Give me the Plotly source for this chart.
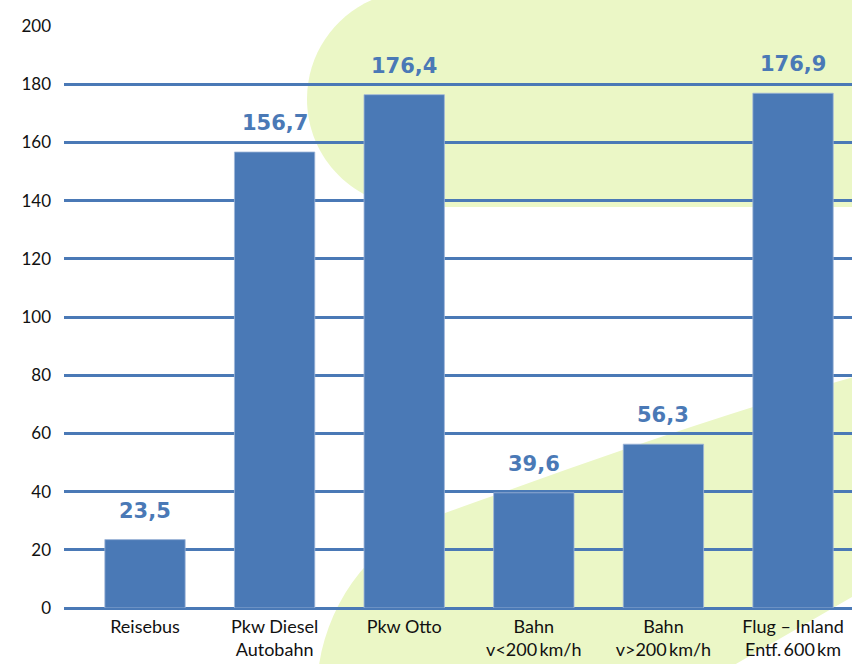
import plotly.graph_objects as go

categories = ["Reisebus", "Pkw Diesel<br>Autobahn", "Pkw Otto",
              "Bahn<br>v&lt;200\u2009km/h", "Bahn<br>v&gt;200\u2009km/h",
              "Flug \u2013 Inland<br>Entf.\u2009600\u2009km"]
values = [23.5, 156.7, 176.4, 39.6, 56.3, 176.9]
labels = ["23,5", "156,7", "176,4", "39,6", "56,3", "176,9"]
y_ticks = [0, 20, 40, 60, 80, 100, 120, 140, 160, 180, 200]

BLUE = "#4a79b6"
GREEN = "#ebf7c6"
W, H = 852, 664
L, R, T, B = 64, 0, 26, 56
PW, PH = W - L - R, H - T - B


def px(x, y):
    return (x - L) / PW, (H - B - y) / PH


def path(cmds):
    out = []
    for c in cmds:
        op, pts = c[0], c[1:]
        s = op
        for (x, y) in pts:
            a, b = px(x, y)
            s += f" {a:.5f},{b:.5f}"
        out.append(s)
    return " ".join(out) + " Z"


k = 0.5523
cx, cy, r = 415, 99, 108
top_blob = path([
    ("M", (cx, cy + r)),
    ("C", (cx - k * r, cy + r), (cx - r, cy + k * r), (cx - r, cy)),
    ("C", (cx - r, cy - k * r), (cx - k * r, cy - r), (cx, cy - r)),
    ("L", (W + 5, cy - r)),
    ("L", (W + 5, cy + r)),
])
bottom_band = path([
    ("M", (318, 672)),
    ("C", (327, 600), (372, 540), (445, 513)),
    ("C", (560, 472), (700, 420), (W + 5, 376)),
    ("L", (W + 5, 594)),
    ("L", (722, 672)),
])

fig = go.Figure()
fig.add_trace(go.Bar(
    x=categories, y=values,
    marker=dict(color=BLUE, line=dict(color="#9fb6d8", width=0.8)),
    width=0.62, hoverinfo="skip",
))

for c, v, t in zip(categories, values, labels):
    fig.add_annotation(x=c, y=v, text=t, showarrow=False, yanchor="bottom",
                       yshift=15, font=dict(family="DejaVu Sans", size=21,
                                             color=BLUE, weight="bold"))

fig.add_shape(type="path", path=top_blob, xref="paper", yref="paper",
              fillcolor=GREEN, line=dict(width=0), layer="below")
fig.add_shape(type="path", path=bottom_band, xref="paper", yref="paper",
              fillcolor=GREEN, line=dict(width=0), layer="below")

fig.update_layout(
    width=W, height=H,
    margin=dict(l=L, r=R, t=T, b=B, pad=0),
    paper_bgcolor="rgba(0,0,0,0)", plot_bgcolor="rgba(0,0,0,0)",
    showlegend=False,
    font=dict(family="Lato", color="#111111"),
    xaxis=dict(range=[-0.625, 5.455], showgrid=False, zeroline=False,
               showline=False, ticks="", tickfont=dict(size=18, family="Lato"),
               ticklabelstandoff=6, fixedrange=True),
    yaxis=dict(range=[0, 200], tickvals=y_ticks, showgrid=True,
               gridcolor=BLUE, gridwidth=2.5, zeroline=True,
               zerolinecolor=BLUE, zerolinewidth=2.5, showline=False,
               ticks="", ticklabelstandoff=12,
               tickfont=dict(size=17, family="Lato"), fixedrange=True),
)

fig.write_html("out.html", config={"displayModeBar": False})
